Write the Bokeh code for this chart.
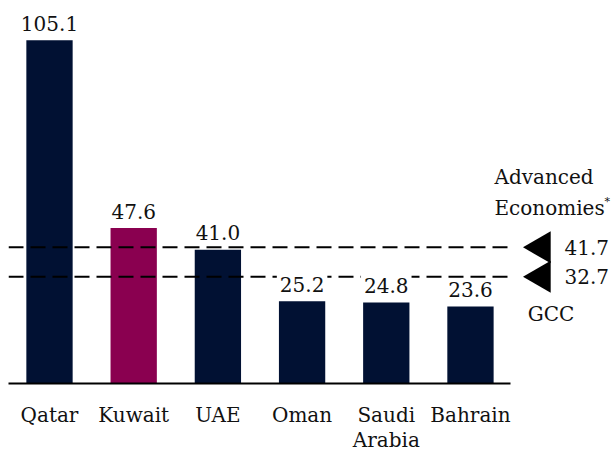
import math
from bokeh.plotting import figure
from bokeh.models import FixedTicker, Range1d, ColumnDataSource
from bokeh.core.properties import value
from bokeh.embed import file_html
from bokeh.resources import INLINE

# ---- data ----
countries = ["Qatar", "Kuwait", "UAE", "Oman", "Saudi Arabia", "Bahrain"]
tick_labels = ["Qatar", "Kuwait", "UAE", "Oman", "Saudi\nArabia", "Bahrain"]
values = [105.1, 47.6, 41.0, 25.2, 24.8, 23.6]
highlight = "Kuwait"
ref_values = [41.7, 32.7]
ref_labels = ["41.7", "32.7"]
ref_names = ["Advanced\nEconomies", "GCC"]

NAVY = "#011133"
MAROON = "#8A0050"
TEXT = "#111111"
FONT = "DejaVu Serif"
FS = "20px"

xs = list(range(len(countries)))
colors = [MAROON if c == highlight else NAVY for c in countries]
bar_labels = [f"{v:.1f}" for v in values]

src = ColumnDataSource(dict(x=xs, top=values, color=colors, label=bar_labels))

p = figure(frame_width=603, frame_height=383,
           x_range=Range1d(-0.487, 6.675), y_range=Range1d(0, 117.3),
           output_backend="svg", toolbar_location=None,
           x_axis_location="below", y_axis_location=None,
           min_border_left=8, min_border_right=0, min_border_top=0, min_border_bottom=0,
           outline_line_color=None, background_fill_color="white")
p.grid.grid_line_color = None

ax = p.xaxis[0]
ax.ticker = FixedTicker(ticks=xs)
ax.major_label_overrides = {i: lab for i, lab in zip(xs, tick_labels)}
ax.bounds = (-0.487, 5.48)
ax.axis_line_width = 2
ax.axis_line_color = "black"
ax.major_tick_line_color = None
ax.minor_tick_line_color = None
ax.major_tick_out = 0
ax.major_tick_in = 0
ax.major_label_standoff = 19
ax.major_label_text_font = FONT
ax.major_label_text_font_size = FS
ax.major_label_text_color = TEXT
ax.major_label_text_line_height = 1.08

# bars
p.vbar(x="x", top="top", width=0.55, fill_color="color", line_color=None, source=src)

# reference lines
for v in ref_values:
    p.segment(x0=-0.487, x1=5.45, y0=v, y1=v, line_color="black", line_width=2,
              line_dash="15 7")

# bar value labels (white background interrupts dashed lines)
p.text(x="x", y="top", text="label", source=src, text_align="center",
       text_baseline="alphabetic", y_offset=-17, text_font=value(FONT),
       text_font_size=FS, text_color=TEXT, background_fill_color="white",
       padding=3)

# reference markers
tri_x = [5.843] * len(ref_values)
p.scatter(x=tri_x, y=ref_values, marker="triangle", size=32, angle=math.pi / 2,
          fill_color="black", line_color=None)
p.text(x=[6.116] * len(ref_values), y=ref_values, text=ref_labels, text_align="left",
       text_baseline="middle", text_font=value(FONT), text_font_size=FS, text_color=TEXT)

# reference names
p.text(x=[5.285], y=[ref_values[0]], text=[ref_names[0]], text_align="left",
       text_baseline="bottom", y_offset=-27, text_font=value(FONT),
       text_font_size=FS, text_color=TEXT, text_line_height=1.3)
p.text(x=[5.285], y=[ref_values[0]], text=["*"], text_align="left",
       text_baseline="top", x_offset=110, y_offset=-52, text_font=value(FONT),
       text_font_size="11px", text_color=TEXT)
p.text(x=[5.68], y=[ref_values[1]], text=[ref_names[1]], text_align="left",
       text_baseline="alphabetic", y_offset=37, text_font=value(FONT),
       text_font_size=FS, text_color=TEXT)

open("out.html", "w").write(file_html(p, INLINE))
